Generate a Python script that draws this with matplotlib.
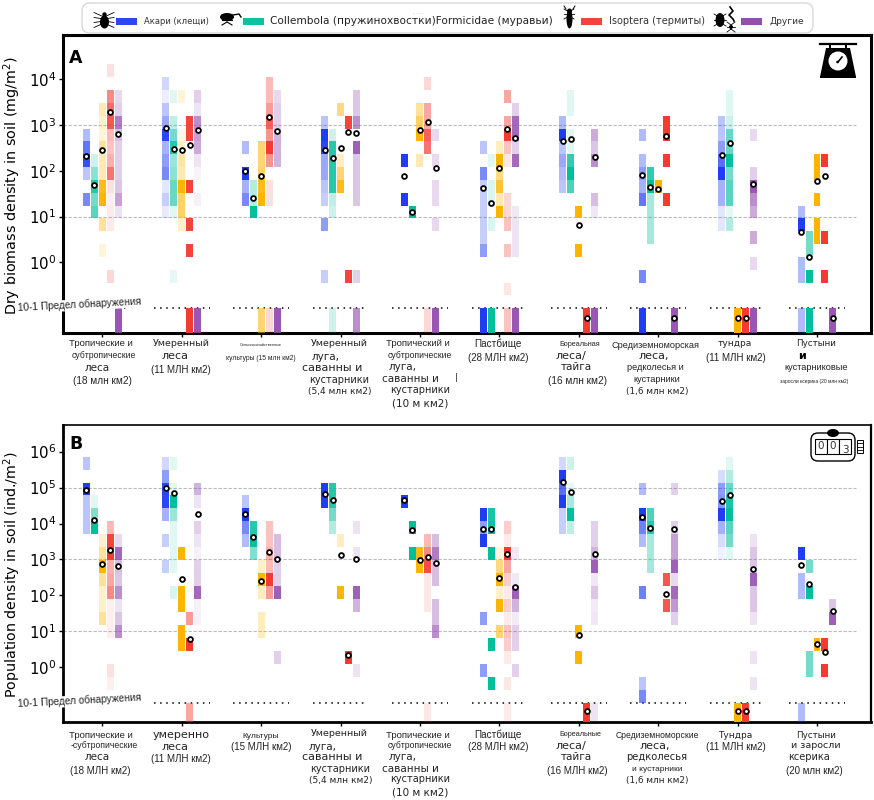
import math
import matplotlib
matplotlib.use("Agg")
import matplotlib.pyplot as plt
from matplotlib.patches import Circle, Ellipse, FancyBboxPatch, Rectangle

W, H = 874, 800
plt.rcParams['font.family'] = ['DejaVu Sans']
NARROW = ['Liberation Sans', 'DejaVu Sans']

taxa_colors = ['#1f3df5', '#00bf9b', '#ffb400', '#f53a30', '#8e44ad']

# A - dry biomass. keys = histogram bin, values = share (opacity), 'd' = below the detection limit
acari_a = [
    {9: .35, 8: .7, 7: .9, 6: .3, 4: .6},
    {13: .2, 12: .08, 11: .3, 10: .45, 9: .95, 8: .4, 7: .5, 6: .6, 5: .12, 4: .25, 3: .1},
    {8: .35, 6: 1, 5: .4, 4: .6},
    {10: .3, 9: 1, 8: .95, 7: .45, 6: .45, 5: .3, 4: .25, 2: .5, -2: .25},
    {7: 1, 4: 1},
    {8: .3, 6: .6, 5: .25, 4: .25, 3: .25, 2: .25, 1: .25, 0: .5, 'd': 1},
    {10: .35, 9: 1, 8: .3, 7: .45, 6: .35, 5: .3},
    {9: .35, 7: .35, 6: .5, 5: .4, 4: .7, -2: .6, 'd': 1},
    {10: .3, 9: .3, 8: .5, 7: .75, 6: 1, 5: .4, 4: .4, 3: .12, 2: .12},
    {3: .35, 2: 1, -1: .35, -2: .35, 'd': .35},
]
collembola_a = [
    {7: .2, 6: .45, 5: .85, 4: .55, 3: .65},
    {12: .12, 10: .25, 9: .55, 8: .85, 7: .4, 6: .45, 5: .6, 4: .6, 3: .12, -2: .1},
    {5: .3, 4: .3, 3: 1},
    {9: .2, 8: .85, 7: .85, 6: .85, 5: .85, 4: .25, 3: .2, 'd': .2},
    {3: 1},
    {7: .12, 5: .15, 4: .15, 2: .15, 'd': 1},
    {12: .12, 11: .12, 9: .12, 8: .12, 7: .8, 6: 1, 5: .7},
    {6: .8, 5: 1, 4: .35, 3: .35, 2: .35, 1: .35},
    {12: .12, 11: .12, 10: .2, 9: .6, 8: .6, 7: 1, 6: .55, 5: .65, 4: .65, 3: .1, 2: .3},
    {1: .55, 0: .55, -2: 1, 'd': 1},
]
ants_a = [
    {11: .3, 10: .2, 9: .15, 8: .4, 7: .3, 6: .3, 5: .9, 4: 1, 2: .4, 0: .15},
    {12: .15, 9: .1, 8: .2, 7: .35, 6: .3, 5: 1, 4: .6, 3: .6, 2: .2},
    {8: .55, 7: .55, 6: .6, 5: .9, 4: 1, 'd': .55},
    {11: .5, 7: .25, 6: .55, 5: .9},
    {11: .4, 10: .6, 9: 1, 7: .3},
    {8: .25, 7: 1, 6: .5, 5: .8, 4: .3, 3: 1},
    {3: 1, 0: 1},
    {5: 1},
    {'d': 1},
    {7: 1, 6: 1, 4: 1, 2: 1, 1: 1},
]
termites_a = [
    {14: .15, 12: .6, 11: .75, 10: .85, 9: .35, 8: .3, 7: .4, 6: .7, 5: .15, 4: .08, 3: .1, 2: .1, -2: .2},
    {10: .95, 9: .95, 5: .95, 2: .95, 0: .95, 'd': 1},
    {13: .35, 12: .35, 11: .5, 10: .8, 9: .55, 8: 1, 7: .55, 5: .15, 4: .15, 'd': .2},
    {10: .95, -2: .95},
    {13: .2, 11: .45, 10: .45, 9: .8, 8: .7, 'd': .2},
    {12: .45, 10: .45, 9: 1, 8: .3, 7: .12, 4: .2, 3: .2, 2: .3, 0: .3, -3: .12, 'd': .3},
    {'d': 1},
    {10: 1, 9: 1, 7: 1, 4: 1},
    {'d': 1},
    {7: 1, 1: 1, -2: 1},
]
others_a = [
    {12: .2, 11: .25, 10: .7, 9: .35, 8: .25, 7: .25, 6: .25, 5: .3, 4: .5, 3: .15, 'd': .9},
    {12: .25, 11: .15, 10: .6, 9: .5, 8: .45, 7: .15, 6: .06, 4: .08, 'd': .9},
    {12: .2, 11: .25, 10: .25, 9: .4, 8: .4, 7: .4, 'd': .9},
    {12: .3, 11: .3, 10: .6, 8: .85, 7: .3, 6: .3, 5: .3, 4: .3, -2: .25, 'd': .6},
    {9: .2, 7: .2, 5: .2, 4: .2, 2: .2, 'd': .9},
    {11: .25, 10: .8, 9: .8, 8: .25, 7: .8, 3: .12, 2: .15, 1: .15, 0: .15, 'd': .9},
    {9: .45, 8: .3, 7: .6, 4: .35, 3: .12, 'd': .9},
    {'d': .9},
    {9: .2, 6: .25, 5: .9, 4: .6, 3: .45, 1: .45, -1: .2, 'd': .9},
    {'d': .9},
]
acari_mean_a = [209, 850, 97, 285, 76, 42, 440, 80, 225, 4.5]
collembola_mean_a = [50, 300, 25, 187, 12.7, 19.5, 480, 44, 400, 1.3]
ants_mean_a = [290, 290, 76, 315, 780, 115, 6.6, 40, 0.0617, 59]
termites_mean_a = [1900, 370, 1500, 700, 1140, 820, 0.0617, 580, 0.0617, 77]
others_mean_a = [637, 790, 740, 680, 113, 520, 200, 0.0617, 52, 0.0617]

# B - population density
acari_b = [
    {7: .3, 5: 1, 4: .3, 3: .3, 2: .3},
    {7: .2, 6: .5, 5: .95, 4: .95, 3: .4, 1: .25, -1: .25},
    {4: .3, 3: 1, 2: .6, 1: .35},
    {5: 1, 4: 1},
    {4: 1},
    {3: 1, 2: .5, 1: 1, -5: .5, -9: .5},
    {7: .2, 6: 1, 5: .75, 4: 1, 3: .25, 2: .25},
    {5: .35, 3: 1, 2: .65, 1: .35, -3: .65, -10: .3, -11: .6},
    {6: .18, 5: .5, 4: .55, 3: 1, 2: .4, 1: .18, 0: .07},
    {0: 1, -2: .35, -3: .35, 'd': .35},
]
collembola_b = [
    {4: .12, 3: .5, 2: 1},
    {7: .12, 5: .1, 4: 1, 3: .4, 2: .12, 1: .12, 0: .12, -1: .12, -3: .15},
    {2: .85, 1: 1, 0: .5},
    {5: .85, 4: .85, 3: .55, 2: .3},
    {2: 1, 0: 1},
    {3: .9, 2: .95, 0: 1, -7: 1, -10: 1},
    {7: .2, 5: .1, 4: .35, 3: 1, 2: .25},
    {3: .7, 2: .85, 1: .35, 0: .35, -1: .35},
    {7: .12, 6: .3, 5: .6, 4: .9, 3: 1, 2: .65, 1: .55, 0: .12},
    {-1: .55, -3: 1, -8: .55, -9: .55},
]
ants_b = [
    {1: .2, 0: .4, -1: 1, -2: .4, -3: .2, -4: .2, -5: .4},
    {0: 1, -3: 1, -4: 1, -6: 1, -7: 1},
    {-1: .2, -2: 1, -3: .25, -5: .25, -6: .25},
    {1: .25, -3: 1},
    {0: .95, -1: 1},
    {0: .12, -1: .5, -2: 1, -3: .2, -4: 1, -6: .55},
    {-6: 1, -8: 1},
    {},
    {'d': 1},
    {-7: 1},
]
termites_b = [
    {2: .35, 1: .95, 0: 1, -1: .4, -2: .45, -3: .6, -4: .08, -5: .08, -6: .08, -9: .15, -10: .08},
    {-5: .5, -7: 1, 'd': .45},
    {2: .3, 1: .3, 0: .4, -1: .35, -2: 1, -3: .5},
    {-8: 1},
    {1: .35, 0: .6, -1: .9, -2: .12, -3: .12, -4: .12, 'd': .12},
    {2: .25, 1: .1, 0: 1, -1: .45, -2: .25, -3: .1, -4: .25, -5: .1, -6: .3, -7: .25, -8: .1, -10: .12, 'd': .1},
    {'d': 1},
    {-2: .85, -4: .85},
    {'d': 1},
    {-7: 1, -9: 1},
]
others_b = [
    {1: .2, 0: .8, -1: .35, -2: .3, -3: .6, -4: .15, -5: .3, -6: .6},
    {5: .4, 4: .15, 2: .25, 1: .15, 0: .08, -1: .25, -2: .25, -3: .8, -4: .08, -5: .08},
    {1: .35, 0: .35, -1: .25, -2: .25, -3: .85, -8: .25},
    {2: .15, 0: .15, -3: .85, -4: .4, -9: .15},
    {1: .35, 0: .7, -1: .35, -2: .35, -4: .35, -5: .35, -6: .6},
    {0: .12, -2: .12, -3: .85, -4: .4, -5: .1, -6: .25, -7: .25, -9: .25},
    {2: .25, 1: .25, 0: .4, -1: .85, -2: .12, -3: .3, -4: .1, -5: .12, 'd': .15},
    {5: .25, 2: .25, 1: .5, 0: .5, -1: .85, -2: .2, -3: .8, -4: .55, -5: .25},
    {1: .15, 0: .3, -1: .3, -2: .85, -3: .3, -4: .3, -5: .15, -8: .15, -10: .15},
    {-4: .3, -5: .85},
]
acari_mean_b = [88000, 98000, 18000, 68000, 45000, 7200, 140000, 15000, 42000, 680]
collembola_mean_b = [12900, 69000, 4300, 45000, 6500, 7000, 76000, 7500, 63000, 205]
ants_mean_b = [725, 295, 260, 1320, 970, 310, 7.7, None, 0.06, 4.5]
termites_mean_b = [1850, 6.2, 1660, 2.2, 1180, 1380, 0.06, 110, 0.06, 2.6]
others_mean_b = [650, 18500, 1000, 1000, 810, 175, 1380, 7000, 540, 36]

# x centre, y, text, font size, narrow font? - every line of the tick labels has its own scale
labels_a = [
    (100.5, 344, "Тропические и", 6.8, 1), (104, 356, "субтропические", 6.2, 1), (97, 368, "леса", 7.5, 0), (102, 381, "(18 млн км2)", 7.2, 1),
    (181, 344, "Умеренный", 6.8, 0), (175, 356, "леса", 8, 0), (181, 370, "(11 МЛН км2)", 7, 1),
    (261, 345, "Сельскохозяйственные", 2.8, 1), (261, 358, "культуры (15 млн км2)", 4.8, 1),
    (339, 344, "Умеренный", 6.8, 0), (325.7, 357, "луга,", 7.5, 0), (331.7, 368, "саванны и", 8, 0), (339, 379.7, "кустарники", 7, 0), (340, 391.7, "(5,4 млн км2)", 6.5, 0),
    (418, 344, "Тропический и", 6.8, 1), (419.7, 356, "субтропические", 6.2, 1), (403, 367, "луга,", 7.5, 0), (410, 379.5, "саванны и", 7.5, 0), (420, 390, "кустарники", 7, 0), (420, 403, "(10 м км2)", 7.5, 0),
    (456.7, 378, "|", 6, 0),
    (498, 344, "Пастбище", 7.2, 1), (498, 358, "(28 МЛН км2)", 7, 1),
    (580, 344, "Бореальная", 5.2, 1), (571, 356, "леса/", 8, 0), (576, 367.5, "тайга", 7.5, 0), (577, 381.5, "(16 млн км2)", 7.2, 1),
    (655.7, 345, "Средиземноморская", 6.6, 1), (653.7, 356, "леса,", 8, 0), (655.7, 368, "редколесья и", 6.6, 1), (657, 379.5, "кустарники", 6.6, 1), (657, 391.5, "(1,6 млн км2)", 6.4, 0),
    (735, 344, "тундра", 6.5, 0), (735.7, 358, "(11 МЛН км2)", 7, 1),
    (815.7, 344, "Пустыни", 6.3, 0), (815.7, 368, "кустарниковые", 6.6, 1), (814, 382, "заросли ксерика (20 млн км2)", 3.5, 1),
]
labels_b = [
    (100.5, 735, "Тропические и", 6.8, 1), (104, 746, "-субтропические", 6.2, 1), (97, 757, "леса", 7.5, 0), (100.5, 771, "(18 МЛН км2)", 7, 1),
    (181, 735, "умеренно", 8, 0), (175, 746.5, "леса", 8, 0), (181, 759.5, "(11 МЛН км2)", 7, 1),
    (260.7, 736, "Культуры", 6, 1), (261, 747.5, "(15 МЛН км2)", 7, 1),
    (339, 734, "Умеренный", 6.8, 0), (323, 746.5, "луга,", 7.5, 0), (331.7, 757, "саванны и", 8, 0), (340, 769, "кустарники", 7, 0), (341, 781, "(5,4 млн км2)", 6.5, 0),
    (418, 735, "Тропические и", 6.8, 1), (419.7, 746, "субтропические", 6.2, 1), (403, 757, "луга,", 7.5, 0), (410, 769, "саванны и", 7.5, 0), (420, 779.5, "кустарники", 7, 0), (420, 792.5, "(10 м км2)", 7.5, 0),
    (498, 735, "Пастбище", 7.2, 1), (498, 747, "(28 МЛН км2)", 7, 1),
    (580, 734, "Бореальные", 5.2, 1), (571, 746, "леса/", 8, 0), (576, 757, "тайга", 7.5, 0), (577, 771, "(16 МЛН км2)", 7, 1),
    (657.7, 735, "Средиземноморские", 6.2, 1), (655, 746, "леса,", 8, 0), (657, 757, "редколесья", 7.2, 0), (657, 769.5, "и кустарники", 6, 1), (657, 781, "(1,6 млн км2)", 6.4, 0),
    (735, 735, "Тундра", 6.5, 0), (736, 747, "(11 МЛН км2)", 7, 1),
    (815.7, 735, "Пустыни", 6.3, 0), (815.7, 746, "и заросли", 6.8, 0), (809, 757, "ксерика", 7, 0), (814, 771, "(20 млн км2)", 7, 1),
]

fig = plt.figure(figsize=(W / 100, H / 100), dpi=100)


def make_axes(top, bottom):
    return fig.add_axes([63 / W, 1 - bottom / H, 808 / W, (bottom - top) / H])


def draw_panel(ax, series, means, bin0, bin_w, ymin, ymax, ticks, lw):
    ax.set_yscale('log')
    ax.set_xlim(-0.495, 9.68)
    ax.set_ylim(ymin, ymax)
    for g in (10.0, 1000.0) + ((100000.0,) if ymax > 1e5 else ()):
        ax.plot([-0.495, 9.49], [g, g], ls=(0, (3, 1.5)), color='#bbbbbb', lw=0.8, zorder=1)
    for i in range(10):
        ax.plot([i - 0.35, i + 0.35], [0.1, 0.1], ls=(0, (1, 3)), color='black', lw=1.1, zorder=2)
    for t, color in enumerate(taxa_colors):
        for i in range(10):
            x = i + (t - 2) * 0.1
            for k, alpha in series[t][i].items():
                if k == 'd':
                    lo, hi = ymin, 0.1
                else:
                    lo = 10 ** (bin0 + bin_w * k)
                    hi = 10 ** (bin0 + bin_w * (k + 1))
                ax.bar(x, hi - lo, bottom=lo, width=0.088, color=color, alpha=alpha, lw=0, zorder=3)
            if means[t][i] is not None:
                ax.scatter(x, means[t][i], s=12, facecolor='white', edgecolor='black', lw=1.3, zorder=5)
    ax.set_yticks(ticks)
    ax.set_yticklabels(['$\\mathregular{10^{%d}}$' % round(math.log10(v)) for v in ticks])
    ax.minorticks_off()
    ax.set_xticks(range(10))
    ax.set_xticklabels([])
    ax.tick_params(axis='y', labelsize=10.8, length=3, width=1, pad=2)
    ax.tick_params(axis='x', length=3, width=1)
    for side, spine in ax.spines.items():
        spine.set_linewidth(lw[side])


ax_a = make_axes(35, 333)
draw_panel(ax_a, [acari_a, collembola_a, ants_a, termites_a, others_a],
           [acari_mean_a, collembola_mean_a, ants_mean_a, termites_mean_a, others_mean_a],
           0.12, 0.28, 10 ** -1.54, 10 ** 4.96, [1, 10, 100, 1000, 10000],
           {'left': 2.2, 'right': 2.2, 'top': 2.2, 'bottom': 2.2})
ax_b = make_axes(425, 722)
draw_panel(ax_b, [acari_b, collembola_b, ants_b, termites_b, others_b],
           [acari_mean_b, collembola_mean_b, ants_mean_b, termites_mean_b, others_mean_b],
           2.98, 0.36, 10 ** -1.52, 10 ** 6.74, [1, 10, 100, 1000, 10000, 100000, 1000000],
           {'left': 2, 'right': 1.6, 'top': 1.2, 'bottom': 2})

# overlay in pixel coordinates for legend, icons and free text
ov = fig.add_axes([0, 0, 1, 1], zorder=10)
ov.set_xlim(0, W)
ov.set_ylim(H, 0)
ov.axis('off')

ov.add_patch(FancyBboxPatch((82, 3), 731, 30, boxstyle='round,pad=0,rounding_size=8', fc='white', ec='#d9d9d9', lw=1))
for x0, c in zip([116, 243, 581, 741], ['#1f3df5', '#00bf9b', '#f53a30', '#8e44ad']):
    ov.add_patch(Rectangle((x0, 17.5), 21, 7.5, fc=c, ec='none', alpha=0.95))
ov.text(144, 21, "Акари (клещи)", fontsize=6, va='center', color='#333333')
ov.text(270, 21, "Collembola (пружинохвостки)Formicidae (муравьи)", fontsize=7.55, va='center', color='#222222')
ov.text(609, 21, "Isoptera (термиты)", fontsize=7, va='center', color='#333333')
ov.text(769, 21, "Другие", fontsize=6.5, va='center', color='#333333')
ov.text(418, 13.5, "- - -", fontsize=4, color='#bbbbbb', ha='center', va='center')


def legs(x, y, dx, dy, n, lw=0.6):
    for i in range(n):
        off = (i - (n - 1) / 2) * dy
        for s in (-1, 1):
            ov.plot([x, x + s * dx], [y + off * 0.4, y + off], color='black', lw=lw)


# acarien
legs(104, 20, 10, 5, 4)
ov.add_patch(Ellipse((104.5, 22), 9, 13, fc='black', ec='none'))
ov.add_patch(Circle((104.5, 14.5), 2.2, fc='black', ec='none'))
# springtail
ov.add_patch(Ellipse((227, 17), 14, 8, fc='black', ec='none'))
ov.plot([233, 239, 241], [15, 14, 17], color='black', lw=1)
legs(227, 20, 5, 5, 3, lw=0.8)
# termite
legs(569, 14, 5, 5, 3)
ov.add_patch(Ellipse((569.5, 19), 6, 19, fc='black', ec='none'))
ov.add_patch(Ellipse((569.5, 11), 5, 5, fc='black', ec='none'))
ov.plot([566, 564], [9, 6], color='black', lw=0.7)
ov.plot([573, 575], [9, 6], color='black', lw=0.7)
# beetle, worm, spider
legs(720, 20, 6, 6, 3)
ov.add_patch(Ellipse((720, 20), 9, 14, fc='black', ec='none'))
ov.plot([730, 733, 729, 733, 734], [7, 11, 15, 19, 21], color='black', lw=1.2)
legs(731, 27, 4, 5, 3, lw=0.6)
ov.add_patch(Circle((731, 27), 2, fc='black', ec='none'))

# scale
ov.plot([820, 856], [44, 44], color='black', lw=1.6)
for xs in (830, 846):
    ov.plot([xs, xs], [44, 49], color='black', lw=1.4)
ov.fill([826, 850, 856, 820], [48, 48, 77, 77], color='black', lw=0)
ov.add_patch(Rectangle((820, 75.5), 36, 2.5, fc='black', ec='none'))
ov.add_patch(Circle((838, 61), 9.5, fc='white', ec='none'))
ov.plot([838, 842], [62, 57], color='black', lw=1.2)
ov.add_patch(Circle((837.5, 62), 1.3, fc='black', ec='none'))

# counter
ov.add_patch(FancyBboxPatch((811, 433), 44, 28, boxstyle='round,pad=0,rounding_size=7', fc='white', ec='black', lw=1))
ov.add_patch(Ellipse((833, 433), 12, 8, fc='black', ec='none'))
for x0, txt in zip([815, 827, 839], ['0', '0', '3']):
    ov.add_patch(Rectangle((x0, 439), 12, 15, fc='white', ec='black', lw=0.8))
    ov.text(x0 + 6, 446 if txt == '0' else 450, txt, fontsize=7.5, ha='center', va='center', color='#333333')
ov.add_patch(Rectangle((857, 440), 6, 13, fc='white', ec='black', lw=0.7))
for ys in (443, 446.5, 450):
    ov.plot([857, 863], [ys, ys], color='black', lw=0.6)

ov.text(69, 58, "A", fontsize=12.5, fontweight='bold', va='center')
ov.text(69, 444, "B", fontsize=12.5, fontweight='bold', va='center')
ov.text(12, 185, "Dry biomass density in soil (mg/m$^2$)", rotation=90, fontsize=10.4, ha='center', va='center')
ov.text(12, 575, "Population density in soil (ind./m$^2$)", rotation=90, fontsize=10.3, ha='center', va='center')
ov.text(79, 305, "10-1 Предел обнаружения", rotation=3, fontsize=7.3, family=NARROW, ha='center', va='center', color='#222222',
        bbox=dict(fc='white', ec='none', pad=0.3))
ov.text(79, 701, "10-1 Предел обнаружения", rotation=3, fontsize=7.3, family=NARROW, ha='center', va='center', color='#222222',
        bbox=dict(fc='white', ec='none', pad=0.3))
ov.text(802, 356, "и", fontsize=8, fontweight='bold', ha='center', va='center')

for x, y, txt, size, narrow in labels_a + labels_b:
    ov.text(x, y, txt, fontsize=size, ha='center', va='center', color='#222222', family=NARROW if narrow else ['DejaVu Sans'])

fig.savefig('out.png', dpi=100)
